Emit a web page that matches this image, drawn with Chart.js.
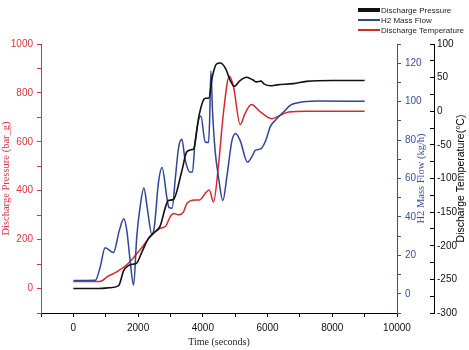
<!DOCTYPE html>
<html>
<head>
<meta charset="utf-8">
<script src="https://cdn.jsdelivr.net/npm/chart.js"></script>
<style>
  body { margin: 0; background: #fff; }
  #wrap { position: relative; width: 469px; height: 350px; }
  #legende { position: absolute; left: 358px; top: 5px; font: 8px "Liberation Sans", Arial, sans-serif; color: #222; }
  .ligne { height: 10px; display: flex; align-items: center; }
  .trait { width: 22px; margin-right: 1px; flex: none; }
</style>
</head>
<body>
<div id="wrap">
  <canvas id="graphique"></canvas>
  <div id="legende"></div>
</div>
<script>
// Pression de refoulement (bar_g)
const tempsPression = [0, 800, 1100, 1400, 1550, 1700, 1850, 1950, 2120, 2320, 2480, 2680, 2850, 2930, 3090, 3350, 3500, 3660, 3720, 3870, 4000, 4080, 4180, 4300, 4420, 4540, 4700, 4850, 4970, 5150, 5350, 5550, 5650, 5800, 5900, 6100, 6300, 6800, 7200, 8000, 9000];
const pression = [0, 0, 3, 12, 72, 94, 100, 103, 150, 205, 228, 255, 335, 360, 364, 480, 558, 568, 572, 698, 765, 778, 778, 870, 918, 922, 900, 850, 827, 850, 864, 853, 845, 848, 836, 829, 833, 838, 847, 851, 851];

// Debit massique H2 (kg/h)
const tempsDebit = [0, 680, 830, 980, 1240, 1420, 1560, 1650, 1750, 1860, 1960, 2060, 2180, 2280, 2424, 2500, 2630, 2740, 2890, 2950, 3050, 3150, 3250, 3352, 3450, 3609, 3680, 3760, 3940, 4073, 4176, 4210, 4249, 4300, 4380, 4485, 4620, 4740, 4900, 5010, 5155, 5380, 5515, 5620, 5800, 5950, 6084, 6250, 6496, 6700, 6910, 7528, 9000];
const debit = [6.9, 7, 14, 24, 21.5, 33, 39, 33, 18, 4.5, 30, 45, 55, 45, 31, 34.6, 58, 65.7, 50, 45, 44.5, 60, 76, 80.4, 70, 63.3, 63.5, 79, 92.5, 79, 78.7, 90, 116, 95, 74.5, 60.6, 48.5, 60.6, 79.7, 83.4, 79.7, 68.5, 71.3, 74.6, 75.5, 80, 87, 90.5, 94.6, 98, 99.3, 100.3, 100.2];

// Temperature de refoulement (°C)
const tempsTemperature = [0, 820, 1080, 1340, 1700, 2060, 2370, 2680, 2850, 2990, 3100, 3250, 3400, 3510, 3760, 3900, 4060, 4200, 4330, 4485, 4640, 4820, 4950, 5155, 5300, 5500, 5780, 6130, 6400, 6650, 7200, 9000];
const temperature = [-253, -253, -245, -239, -226, -206, -187, -174, -171, -157, -152, -154, -150, -137, -132, -132, -123, -117, -135, -80, -1, 52, 36, -20, -4, 10, -1, -11, -6, -1, 0, 0];

const nomsSeries = ['Discharge Pressure', 'H2 Mass Flow', 'Discharge Temperature'];
const couleurs = ['#111111', '#2f4596', '#d42a2e'];
const epaisseursLegende = [4, 2, 2];

const ticksX = [0, 2000, 4000, 6000, 8000, 10000];

const rouge = '#d9363b';
const bleu = '#3b4f96';

function points(xs, ys) {
    return xs.map((x, i) => ({x: x, y: ys[i]}));
}

// legende en html
let legende = document.getElementById('legende');
nomsSeries.forEach((nom, i) => {
    legende.innerHTML += '<div class="ligne"><div class="trait" style="height:' + epaisseursLegende[i] + 'px;background-color:' + couleurs[i] + '"></div><span>' + nom + '</span></div>';
});

// titres des axes de droite (lus de bas en haut)
const titresDroite = {
    id: 'titresDroite',
    afterDraw(chart) {
        const ctx = chart.ctx;
        const zone = chart.chartArea;
        const milieu = (zone.top + zone.bottom) / 2;
        const ecrire = (texte, x, police, couleur) => {
            ctx.save();
            ctx.translate(x, milieu);
            ctx.rotate(-Math.PI / 2);
            ctx.font = police;
            ctx.fillStyle = couleur;
            ctx.textAlign = 'center';
            ctx.textBaseline = 'middle';
            ctx.fillText(texte, 0, 0);
            ctx.restore();
        };
        ecrire('H2 Mass Flow (kg/h)', chart.scales.yDebit.left + 24, '10.5px "Liberation Serif"', bleu);
        ecrire('Discharge Temperature(°C)', chart.scales.yTemp.left + 27, '10.5px "Liberation Sans"', '#000');
    }
};

Chart.defaults.font.family = '"Liberation Sans", Arial, sans-serif';
Chart.defaults.font.size = 10;

let ctx = document.getElementById('graphique').getContext('2d');
let chart = new Chart(ctx, {
    type: 'line',
    data: {
        datasets: [{
            label: nomsSeries[0],
            data: points(tempsPression, pression),
            borderColor: couleurs[0],
            borderWidth: 1.6,
            yAxisID: 'yPression'
        }, {
            label: nomsSeries[1],
            data: points(tempsDebit, debit),
            borderColor: couleurs[1],
            borderWidth: 1.5,
            yAxisID: 'yDebit'
        }, {
            label: nomsSeries[2],
            data: points(tempsTemperature, temperature),
            borderColor: couleurs[2],
            borderWidth: 1.5,
            yAxisID: 'yTemp'
        }]
    },
    options: {
        responsive: true,
        maintainAspectRatio: false,
        animation: false,
        layout: { padding: { top: 44, left: 0, right: 0, bottom: 0 } },
        elements: {
            point: { radius: 0 },
            line: { cubicInterpolationMode: 'monotone', fill: false }
        },
        plugins: { legend: { display: false }, tooltip: { enabled: false } },
        scales: {
            x: {
                type: 'linear',
                min: -1000,
                max: 10000,
                afterFit: (s) => { s.height = 37; },
                border: { color: '#000' },
                grid: { drawOnChartArea: false, tickLength: 4, tickColor: '#000' },
                ticks: {
                    stepSize: 1000,
                    autoSkip: false,
                    maxRotation: 0,
                    padding: 5,
                    color: '#111',
                    callback: (v) => ticksX.includes(v) ? v : ''
                },
                title: {
                    display: true,
                    text: 'Time (seconds)',
                    color: '#222',
                    font: { family: '"Liberation Serif"', size: 10 },
                    padding: { top: 0, bottom: 2 }
                }
            },
            yPression: {
                position: 'left',
                min: -100,
                max: 1000,
                afterFit: (s) => { s.width = 41; },
                border: { color: rouge },
                grid: { drawOnChartArea: false, tickLength: 4, tickColor: rouge },
                ticks: {
                    stepSize: 100,
                    autoSkip: false,
                    padding: 4,
                    color: rouge,
                    callback: (v) => (v >= 0 && v % 200 === 0) ? v : ''
                },
                title: {
                    display: true,
                    text: 'Discharge Pressure (bar_g)',
                    color: rouge,
                    font: { family: '"Liberation Serif"', size: 10.5 },
                    padding: { top: 0, bottom: 0 }
                }
            },
            yDebit: {
                position: 'right',
                weight: 0,
                min: -10,
                max: 130,
                afterFit: (s) => { s.width = 37; },
                border: { color: bleu },
                grid: { drawOnChartArea: false, tickLength: 4, tickColor: bleu },
                ticks: {
                    stepSize: 10,
                    autoSkip: false,
                    padding: 4,
                    color: bleu,
                    callback: (v) => (v >= 0 && v % 20 === 0) ? v : ''
                }
            },
            yTemp: {
                position: 'right',
                weight: 1,
                min: -300,
                max: 100,
                afterFit: (s) => { s.width = 35; },
                border: { color: '#000' },
                grid: { drawOnChartArea: false, tickLength: -4, tickColor: '#000' },
                ticks: {
                    stepSize: 25,
                    autoSkip: false,
                    padding: 7,
                    color: '#111',
                    callback: (v) => (v % 50 === 0) ? v : ''
                }
            }
        }
    },
    plugins: [titresDroite]
});
</script>
</body>
</html>
